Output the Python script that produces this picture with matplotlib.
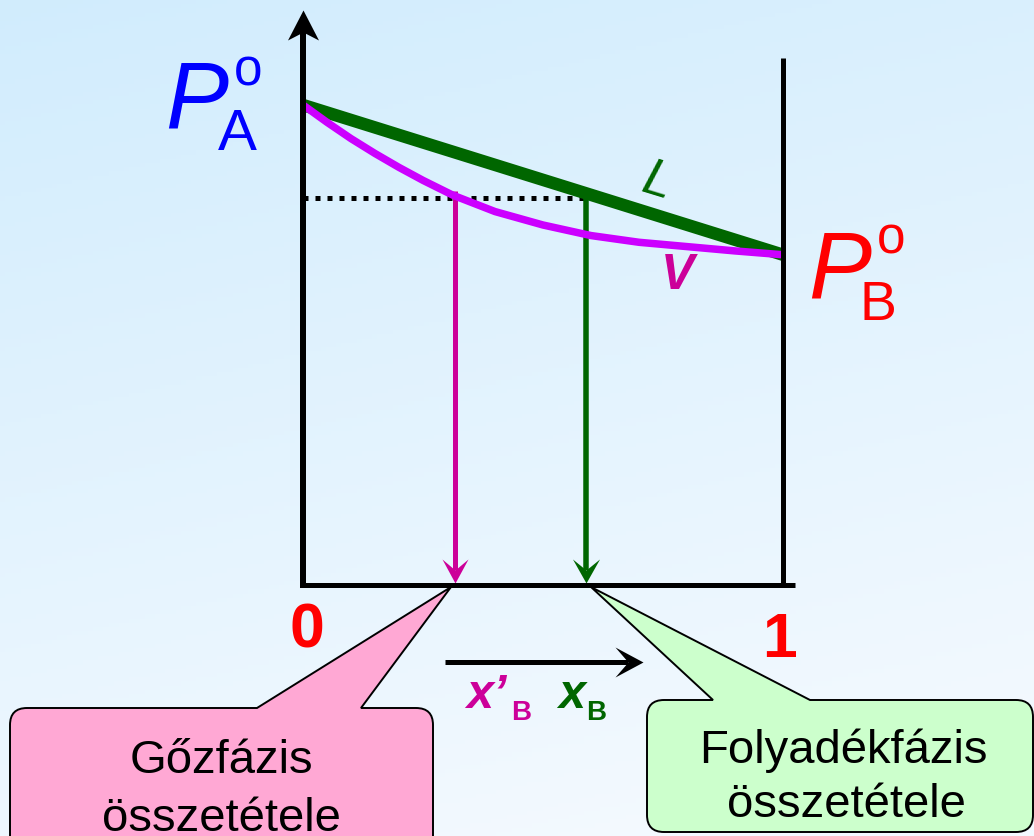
import numpy as np
import matplotlib
matplotlib.use('Agg')
import matplotlib.pyplot as plt
from matplotlib.path import Path
from matplotlib.patches import PathPatch

# ---------------- data ----------------
p_A = 100.0          # vapour pressure of pure A
p_B = 68.8           # vapour pressure of pure B
x_liq = [0.0, 1.0]   # liquid line (L) composition
p_liq = [p_A, p_B]
x_vap = [0.0, 0.05, 0.10, 0.15, 0.20, 0.25, 0.3125, 0.40, 0.50, 0.60, 0.70, 0.80, 0.90, 1.0]
p_vap = [100.0, 96.4, 93.0, 89.9, 87.0, 84.3, 81.2, 77.8, 75.0, 72.8, 71.4, 70.5, 69.6, 68.8]
x_B_vapour = 0.317   # x'_B
x_B_liquid = 0.59    # x_B
p_level = 80.6       # dotted pressure level
tick_labels = ['0', '1']
box_labels = [['Gőzfázis', 'összetétele'], ['Folyadékfázis', 'összetétele']]

# ---------------- layout helpers (pixel -> data) ----------------
W, H = 1034, 836
def X(px):
    return (px - 303) / 480.0
def Y(py):
    return (585 - py) / 4.8

plt.rcParams['font.family'] = ['Liberation Sans', 'DejaVu Sans']
fig = plt.figure(figsize=(W / 100, H / 100), dpi=100)
ax = fig.add_axes([0, 0, 1, 1])
ax.set_xlim(X(0), X(W))
ax.set_ylim(Y(H), Y(0))
ax.axis('off')

# background gradient
yy, xx = np.mgrid[0:1:200j, 0:1:200j]
t = np.clip(0.85 * yy + 0.25 * xx, 0, 1)[..., None]
c_top = np.array([0.82, 0.927, 0.992])
c_bot = np.array([0.955, 0.978, 1.0])
img = c_top * (1 - t) + c_bot * t
ax.imshow(img, extent=[X(0), X(W), Y(H), Y(0)], origin='upper', aspect='auto', zorder=0)

PINK = '#CC0099'
PURPLE = '#CC00FF'
GREEN = '#006600'
px2pt = 0.72

# stealth arrow-head markers (tip at origin)
def head(direction, length, width, notch):
    hw = width / 2.0
    base = [(0, 0), (-hw, length), (0, notch), (hw, length), (0, 0)]
    if direction == 'down':
        v = base
    elif direction == 'up':
        v = [(x, -y) for x, y in base]
    else:  # right
        v = [(-y, x) for x, y in base]
    codes = [Path.MOVETO, Path.LINETO, Path.LINETO, Path.LINETO, Path.CLOSEPOLY]
    return Path(v, codes), 2 * length * px2pt

def draw_arrow(x0, y0, x1, y1, color, lw_px, direction, length, width, notch, z):
    if direction in ('down', 'up'):
        sgn = -1 if direction == 'down' else 1
        ax.plot([x0, x1], [y0, y1 - sgn * notch / 4.8], color=color, lw=lw_px * px2pt,
                solid_capstyle='butt', zorder=z)
    else:
        ax.plot([x0, x1 - notch / 480.0], [y0, y1], color=color, lw=lw_px * px2pt,
                solid_capstyle='butt', zorder=z)
    mk, ms = head(direction, length, width, notch)
    ax.plot([x1], [y1], marker=mk, markersize=ms, color=color, markeredgewidth=0, zorder=z)

# dotted level line
ax.plot([0, x_B_liquid], [p_level, p_level], color='black', lw=5 * px2pt,
        linestyle=(0, (1, 1.4)), dash_capstyle='butt', zorder=2)

# vertical drop lines
p_top_v = np.interp(x_B_vapour, x_vap, p_vap) + 1.0
p_top_l = np.interp(x_B_liquid, x_liq, p_liq)
draw_arrow(x_B_vapour, p_top_v, x_B_vapour, Y(583), PINK, 5, 'down', 24, 26, 13, 3)
draw_arrow(x_B_liquid, p_top_l, x_B_liquid, Y(583), GREEN, 5.5, 'down', 24, 27, 13, 3)

# liquid (L) and vapour (V) lines
ax.plot(x_liq, p_liq, color=GREEN, lw=12.5 * px2pt, solid_capstyle='butt', zorder=4)
ax.plot(x_vap, p_vap, color=PURPLE, lw=7.5 * px2pt, solid_capstyle='butt',
        solid_joinstyle='round', zorder=5)

# axes frame
ax.plot([X(300), X(795)], [0, 0], color='black', lw=5 * px2pt, solid_capstyle='butt', zorder=6)
ax.plot([1.0, 1.0], [0, Y(58)], color='black', lw=5 * px2pt, solid_capstyle='butt', zorder=6)
draw_arrow(0, Y(588), 0, Y(10), 'black', 6, 'up', 30, 31, 22, 6)

# composition arrow
draw_arrow(X(445), Y(662), X(643), Y(662), 'black', 5, 'right', 28, 30, 15, 6)

# ---------------- texts ----------------
ax.text(X(165), Y(128), 'P', fontsize=68, style='italic', color='blue', ha='left', va='baseline')
ax.text(X(234), Y(85), 'o', fontsize=37, color='blue', ha='left', va='baseline')
ax.text(X(218), Y(150), 'A', fontsize=42, color='blue', ha='left', va='baseline')

ax.text(X(808), Y(297), 'P', fontsize=68, style='italic', color='red', ha='left', va='baseline')
ax.text(X(877), Y(254), 'o', fontsize=37, color='red', ha='left', va='baseline')
ax.text(X(859), Y(320), 'B', fontsize=40, color='red', ha='left', va='baseline')

ax.text(X(307), Y(648), tick_labels[0], fontsize=45, fontweight='bold', color='red', ha='center', va='baseline')
ax.text(X(779), Y(657), tick_labels[1], fontsize=45, fontweight='bold', color='red', ha='center', va='baseline')

ax.text(X(657), Y(182), 'L', fontsize=37, style='italic', color=GREEN, ha='center', va='center',
        rotation=-17, rotation_mode='anchor')
ax.text(X(678), Y(276), 'V', fontsize=36, style='italic', fontweight='bold', color=PINK,
        ha='center', va='center')

ax.text(X(466), Y(708), 'x\u2019', fontsize=35, style='italic', fontweight='bold', color=PINK,
        ha='left', va='baseline')
ax.text(X(511), Y(720), 'B', fontsize=20, fontweight='bold', color=PINK, ha='left', va='baseline')
ax.text(X(558), Y(708), 'x', fontsize=35, style='italic', fontweight='bold', color=GREEN,
        ha='left', va='baseline')
ax.text(X(586), Y(720), 'B', fontsize=20, fontweight='bold', color=GREEN, ha='left', va='baseline')

# ---------------- callouts ----------------
def callout(left, right, top, bottom, r, base_l, base_r, tip, fc):
    pts = [(base_l, top), tip, (base_r, top), (right - r, top),
           (right, top), (right, top + r), (right, bottom - r),
           (right, bottom), (right - r, bottom), (left + r, bottom),
           (left, bottom), (left, bottom - r), (left, top + r),
           (left, top), (left + r, top), (base_l, top)]
    codes = [Path.MOVETO, Path.LINETO, Path.LINETO, Path.LINETO,
             Path.CURVE3, Path.CURVE3, Path.LINETO,
             Path.CURVE3, Path.CURVE3, Path.LINETO,
             Path.CURVE3, Path.CURVE3, Path.LINETO,
             Path.CURVE3, Path.CURVE3, Path.CLOSEPOLY]
    verts = [(X(px), Y(py)) for px, py in pts]
    patch = PathPatch(Path(verts, codes), facecolor=fc, edgecolor='black', lw=1.4,
                      joinstyle='miter', zorder=7)
    ax.add_patch(patch)

callout(10, 433, 708, 880, 17, 257, 361, (451, 587), '#FFA8D4')
callout(647, 1033, 700, 832, 17, 713, 810, (591, 587), '#CCFFCC')

ax.text(X(221), Y(773), box_labels[0][0], fontsize=34, color='black', ha='center', va='baseline', zorder=8)
ax.text(X(221), Y(831), box_labels[0][1], fontsize=34, color='black', ha='center', va='baseline', zorder=8)
ax.text(X(843), Y(763), box_labels[1][0], fontsize=34, color='black', ha='center', va='baseline', zorder=8)
ax.text(X(846), Y(817), box_labels[1][1], fontsize=34, color='black', ha='center', va='baseline', zorder=8)

fig.savefig('out.png', dpi=100)
